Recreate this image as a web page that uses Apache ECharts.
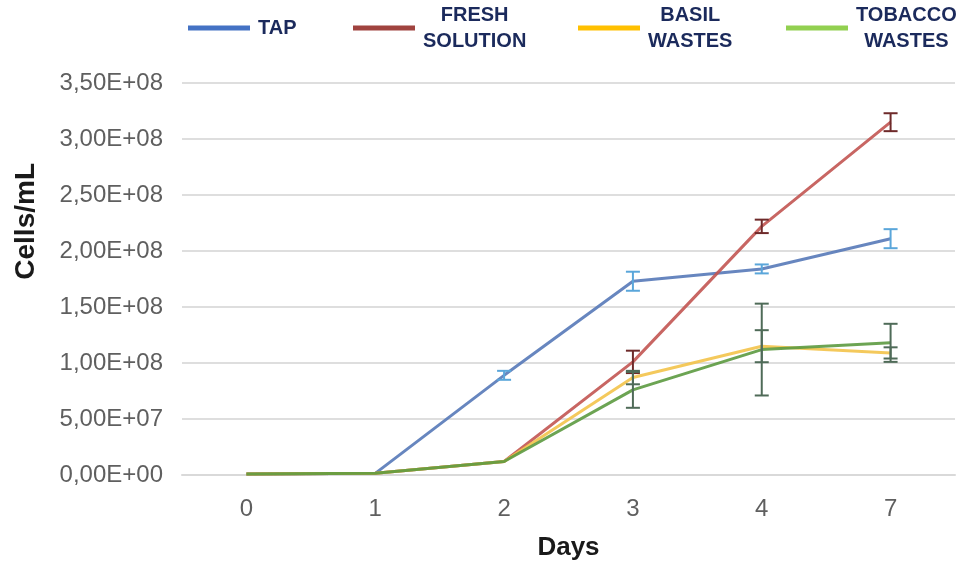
<!DOCTYPE html>
<html>
<head>
<meta charset="utf-8">
<script src="https://cdn.jsdelivr.net/npm/echarts@6/dist/echarts.min.js"></script>
<style>
  html, body { margin: 0; padding: 0; background: #ffffff; }
  #chart { width: 973px; height: 564px; }
</style>
</head>
<body>
<div id="chart"></div>
<script>
// Sampling days (categories on the x axis)
const days = ['0', '1', '2', '3', '4', '7'];

// Cell density (cells/mL) for each medium, with standard deviations
const tap        = [1.0e6, 1.5e6, 8.9e7, 1.73e8, 1.84e8, 2.11e8];
const tapErr     = [0, 0, 4.0e6, 8.5e6, 4.0e6, 8.5e6];
const fresh      = [1.0e6, 1.5e6, 1.2e7, 1.01e8, 2.22e8, 3.15e8];
const freshErr   = [0, 0, 0, 1.0e7, 6.0e6, 8.0e6];
const basil      = [1.0e6, 1.5e6, 1.2e7, 8.7e7, 1.15e8, 1.09e8];
const basilErr   = [0, 0, 0, 6.0e6, 1.43e7, 5.0e6];
const tobacco    = [1.0e6, 1.5e6, 1.2e7, 7.6e7, 1.12e8, 1.18e8];
const tobaccoErr = [0, 0, 0, 1.6e7, 4.1e7, 1.7e7];

// Y axis ticks
const yMin = 0, yMax = 3.5e8, yStep = 5e7;

const seriesNames = ['TAP', 'FRESH SOLUTION', 'BASIL WASTES', 'TOBACCO WASTES'];
const lineColors  = ['#5679b8', '#c25552', '#f3c34a', '#5c9a40'];
const keyColors   = ['#4472c4', '#a0433f', '#ffc000', '#92d050'];
const errColors   = ['#5aa6da', '#6e2a2a', '#4f6b58', '#4f6b58'];

const baseFont = '"Liberation Sans", Arial, sans-serif';

function sciComma(v) {
  if (v === 0) return '0,00E+00';
  const e = Math.floor(Math.log10(v));
  const m = v / Math.pow(10, e);
  return m.toFixed(2).replace('.', ',') + 'E+' + String(e).padStart(2, '0');
}

function errorData(vals, errs) {
  return vals.map((v, i) => [i, v - errs[i], v + errs[i], errs[i]]);
}

function errorSeries(vals, errs, color, z) {
  return {
    type: 'custom',
    z: z,
    silent: true,
    data: errorData(vals, errs).filter(d => d[3] > 0),
    renderItem: function (params, api) {
      const x = api.value(0);
      const lo = api.coord([x, api.value(1)]);
      const hi = api.coord([x, api.value(2)]);
      const half = 7;
      const style = { stroke: color, lineWidth: 2 };
      return {
        type: 'group',
        children: [
          { type: 'line', shape: { x1: lo[0], y1: lo[1], x2: hi[0], y2: hi[1] }, style },
          { type: 'line', shape: { x1: hi[0] - half, y1: hi[1], x2: hi[0] + half, y2: hi[1] }, style },
          { type: 'line', shape: { x1: lo[0] - half, y1: lo[1], x2: lo[0] + half, y2: lo[1] }, style }
        ]
      };
    }
  };
}

function lineSeries(name, vals, color, z) {
  return {
    name: name,
    type: 'line',
    data: vals,
    z: z,
    symbol: 'none',
    color: color,
    lineStyle: { width: 3, color: color, opacity: 0.9 }
  };
}

const legendFont = {
  fontFamily: baseFont,
  fontWeight: 'bold',
  fontSize: 20,
  color: '#1b2a5c',
  lineHeight: 26
};

function legendFor(i, left, top) {
  return {
    show: true,
    left: left,
    top: top,
    padding: 0,
    orient: 'horizontal',
    itemWidth: 62,
    itemHeight: 5,
    icon: 'rect',
    selectedMode: false,
    data: [{ name: seriesNames[i], itemStyle: { color: keyColors[i] } }],
    formatter: function (name) {
      return name.split(' ').map(w => '{a|' + w + '}').join('\n');
    },
    textStyle: Object.assign({}, legendFont, {
      padding: [0, 0, 0, 3],
      rich: { a: Object.assign({ align: 'center' }, legendFont) }
    })
  };
}

const chart = echarts.init(document.getElementById('chart'), null, { renderer: 'canvas' });

chart.setOption({
  animation: false,
  backgroundColor: '#ffffff',
  legend: [
    legendFor(0, 188, 15),
    legendFor(1, 353, 2),
    legendFor(2, 578, 2),
    legendFor(3, 786, 2)
  ],
  grid: { left: 182, right: 18, top: 83, bottom: 89, outerBoundsMode: 'none', containLabel: false },
  xAxis: {
    type: 'category',
    data: days,
    boundaryGap: true,
    axisLine: { show: true, lineStyle: { color: '#d9d9d9', width: 2 } },
    axisTick: { show: false },
    axisLabel: {
      margin: 22,
      fontFamily: baseFont,
      fontSize: 24,
      color: '#5f5f5f'
    },
    name: 'Days',
    nameLocation: 'middle',
    nameGap: 60,
    nameTextStyle: {
      fontFamily: baseFont,
      fontWeight: 'bold',
      fontSize: 26,
      color: '#1a1a1a'
    }
  },
  yAxis: {
    type: 'value',
    min: yMin,
    max: yMax,
    interval: yStep,
    axisLine: { show: false },
    axisTick: { show: false },
    splitLine: { lineStyle: { color: '#dedede', width: 2 } },
    axisLabel: {
      margin: 19,
      fontFamily: baseFont,
      fontSize: 24,
      color: '#5f5f5f',
      formatter: sciComma
    }
  },
  graphic: [{
    type: 'text',
    left: 12,
    top: 163,
    rotation: Math.PI / 2,
    style: {
      text: 'Cells/mL',
      fontFamily: baseFont,
      fontWeight: 'bold',
      fontSize: 28,
      fill: '#1a1a1a'
    }
  }],
  series: [
    lineSeries(seriesNames[0], tap, lineColors[0], 2),
    lineSeries(seriesNames[1], fresh, lineColors[1], 3),
    lineSeries(seriesNames[2], basil, lineColors[2], 4),
    lineSeries(seriesNames[3], tobacco, lineColors[3], 5),
    errorSeries(tap, tapErr, errColors[0], 6),
    errorSeries(fresh, freshErr, errColors[1], 6),
    errorSeries(basil, basilErr, errColors[2], 6),
    errorSeries(tobacco, tobaccoErr, errColors[3], 6)
  ]
});
</script>
</body>
</html>
